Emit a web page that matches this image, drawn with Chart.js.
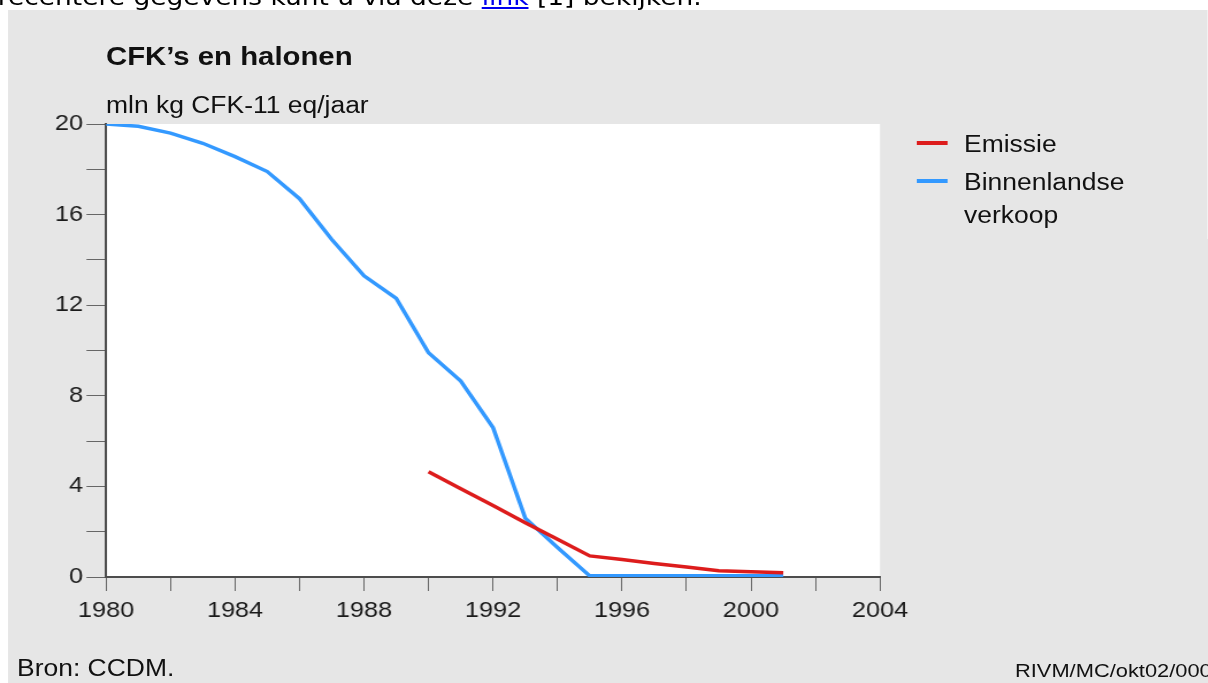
<!DOCTYPE html>
<html>
<head>
<meta charset="utf-8">
<script src="https://cdn.jsdelivr.net/npm/chart.js@4/dist/chart.umd.min.js"></script>
<style>
  html, body { margin:0; padding:0; background:#fff; overflow:hidden; width:1208px; height:683px; }
  #wrap { position:absolute; left:0; top:0; width:1050px; height:683px; transform:scaleX(1.15); transform-origin:0 0; }
  #panel { position:absolute; left:7px; top:10px; right:0; bottom:0; background:#e6e6e6; }
  #chart { position:absolute; left:0; top:0; }
  .t { position:absolute; white-space:nowrap; font-family:"Liberation Sans", Arial, sans-serif; color:#111; line-height:1; }
  .sw { position:absolute; height:4px; width:27px; }
</style>
</head>
<body>
<div id="wrap">
  <div class="t" style="left:-2px; top:-14px; font-family:'DejaVu Sans', sans-serif; font-size:23px; color:#000;">recentere gegevens kunt u via deze <span style="color:#0000ee; text-decoration:underline;">link</span> [1] bekijken.</div>
  <div id="panel"></div>
  <canvas id="chart" width="1050" height="683"></canvas>
  <div class="t" id="title" style="left:92.2px; top:43.5px; font-size:25.5px; font-weight:bold;">CFK’s en halonen</div>
  <div class="t" id="unit" style="left:92.2px; top:93.5px; font-size:23px;">mln kg CFK-11 eq/jaar</div>
  <div class="sw" style="left:797.4px; top:141px; background:#dd1c1c;"></div>
  <div class="t" style="left:838.3px; top:132.5px; font-size:23px;">Emissie</div>
  <div class="sw" style="left:797.4px; top:179px; background:#3399ff;"></div>
  <div class="t" style="left:838.3px; top:170.5px; font-size:23px;">Binnenlandse</div>
  <div class="t" style="left:838.3px; top:203.5px; font-size:23px;">verkoop</div>
  <div class="t" style="left:14.8px; top:656.5px; font-size:23px;">Bron: CCDM.</div>
  <div class="t" style="left:882.6px; top:661px; font-size:19px;">RIVM/MC/okt02/0001</div>
</div>
<script>
// ---- data ----
const salesYears = [1980,1981,1982,1983,1984,1985,1986,1987,1988,1989,1990,1991,1992,1993,1994,1995,1996,1997,1998,1999,2000,2001];
const salesValues = [20,19.9,19.6,19.15,18.56,17.9,16.7,14.9,13.3,12.3,9.9,8.65,6.6,2.6,1.3,0.05,0.05,0.05,0.05,0.05,0.05,0.05];
const emisYears = [1990,1991,1992,1993,1994,1995,1996,1997,1998,1999,2000,2001];
const emisValues = [4.65,3.9,3.16,2.4,1.67,0.93,0.77,0.6,0.44,0.28,0.23,0.19];
const seriesNames = ['Emissie','Binnenlandse verkoop'];
const xTickLabelYears = [1980,1984,1988,1992,1996,2000,2004];
const yTickLabelValues = [0,4,8,12,16,20];

const toPts = (xs, ys) => xs.map((x,i)=>({x:x, y:ys[i]}));
const tickFont = {family:'Liberation Sans', size:22};

const plotBg = {
  id:'plotBg',
  beforeDraw(c){
    const a = c.chartArea, ctx = c.ctx;
    ctx.save();
    ctx.fillStyle = '#ffffff';
    ctx.fillRect(a.left, a.top, a.right-a.left, a.bottom-a.top);
    ctx.restore();
  }
};

new Chart(document.getElementById('chart'), {
  type:'line',
  data:{
    datasets:[
      {label:seriesNames[0], data:toPts(emisYears, emisValues), borderColor:'#dd1c1c', borderWidth:3.5, pointRadius:0, tension:0, fill:false},
      {label:seriesNames[1], data:toPts(salesYears, salesValues), borderColor:'#3399ff', borderWidth:3.5, pointRadius:0, tension:0, fill:false}
    ]
  },
  plugins:[plotBg],
  options:{
    responsive:false,
    animation:false,
    events:[],
    layout:{padding:{left:0, top:124, right:284.8, bottom:0}},
    plugins:{legend:{display:false}, title:{display:false}, tooltip:{enabled:false}},
    scales:{
      x:{
        type:'linear', min:1980, max:2004,
        afterFit(s){ s.height = 106; },
        ticks:{stepSize:2, autoSkip:false, maxRotation:0, padding:7, color:'#1a1a1a', font:tickFont,
          callback:(v)=> xTickLabelYears.includes(v) ? String(v) : ''},
        grid:{drawOnChartArea:false, drawTicks:true, tickLength:14, color:'#666', lineWidth:1},
        border:{color:'#4d4d4d', width:2}
      },
      y:{
        min:0, max:20,
        afterFit(s){ s.width = 92.2; },
        ticks:{stepSize:2, autoSkip:false, padding:3, color:'#1a1a1a', font:tickFont,
          callback:(v)=> yTickLabelValues.includes(v) ? String(v) : ''},
        grid:{drawOnChartArea:false, drawTicks:true, tickLength:17, color:'#666', lineWidth:1},
        border:{color:'#4d4d4d', width:2}
      }
    }
  }
});
</script>
</body>
</html>
